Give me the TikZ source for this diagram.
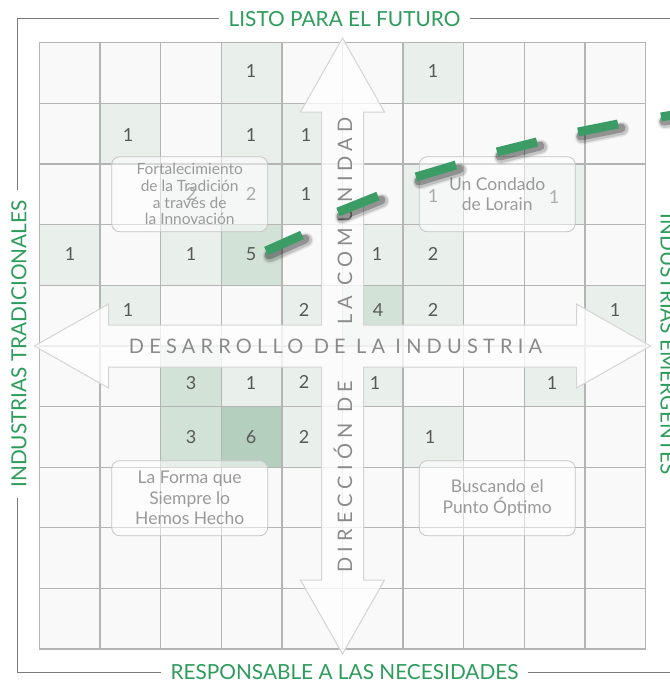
\documentclass[tikz,border=0pt]{standalone}
\usepackage{fontspec}
\setmainfont{Lato}
\definecolor{gridbg}{HTML}{F9F9F9}
\definecolor{gridline}{HTML}{B4B4B4}
\definecolor{shadeA}{HTML}{E9F0EB}
\definecolor{shadeB}{HTML}{D2E2D7}
\definecolor{shadeC}{HTML}{B5CFBE}
\definecolor{numgray}{HTML}{585858}
\definecolor{boxline}{HTML}{C4C4C4}
\definecolor{boxtext}{HTML}{9A9A9A}
\definecolor{axisgray}{HTML}{8A8A8A}
\definecolor{arrowline}{HTML}{D4D4D4}
\definecolor{labelgreen}{HTML}{2E9D5C}
\definecolor{dashgreen}{HTML}{3C9C66}
\definecolor{framegray}{HTML}{7A7A7A}
\begin{document}
\begin{tikzpicture}[x=1pt,y=-1pt,
  num/.style={text=numgray,font=\fontsize{18}{20}\selectfont,inner sep=0pt},
  qbox/.style={draw=boxline,line width=0.8pt,rounded corners=8pt,fill=white,fill opacity=0.5,text opacity=1,
    minimum width=156pt,minimum height=75pt,align=center,text=boxtext,inner sep=0pt},
  axislbl/.style={text=labelgreen,fill=white,font=\fontsize{20.8}{24}\selectfont,inner xsep=10pt,inner ysep=2pt},
  axistxt/.style={text=axisgray,inner sep=0pt,font=\fontsize{20}{24}\selectfont\addfontfeature{LetterSpace=26}},
  crossarrow/.style={draw=arrowline,line width=1pt,fill=white,fill opacity=0.78},
  trend/.style={draw=dashgreen,line width=9pt,line cap=butt},
  trendshadow/.style={draw=black,line cap=round}
]
\useasboundingbox (0,0) rectangle (670,681);
\fill[white] (0,0) rectangle (670,681);
\def\gx{39.3}\def\gy{42.7}\def\cs{60.64}
% grid background
\fill[gridbg] (\gx,\gy) rectangle ({\gx+10*\cs},{\gy+10*\cs});
% shaded cells
\foreach \r/\c/\col in {0/3/shadeA,0/6/shadeA,
  1/1/shadeA,1/3/shadeA,1/4/shadeA,
  2/2/shadeA,2/3/shadeA,2/4/shadeA,2/6/shadeA,2/8/shadeA,
  3/0/shadeA,3/2/shadeA,3/3/shadeB,3/5/shadeA,3/6/shadeA,
  4/1/shadeA,4/4/shadeA,4/5/shadeB,4/6/shadeA,4/9/shadeA,
  5/2/shadeB,5/3/shadeA,5/4/shadeA,5/5/shadeA,5/8/shadeA,
  6/2/shadeB,6/3/shadeC,6/4/shadeA,6/6/shadeA}
  \fill[\col] ({\gx+\c*\cs},{\gy+\r*\cs}) rectangle +(\cs,\cs);
% grid lines
\foreach \i in {0,...,10}{
  \draw[gridline,line width=1.3pt] ({\gx+\i*\cs},\gy) -- ({\gx+\i*\cs},{\gy+10*\cs});
  \draw[gridline,line width=1.3pt] (\gx,{\gy+\i*\cs}) -- ({\gx+10*\cs},{\gy+\i*\cs});
}
% numbers
\foreach \x/\y/\v [count=\k] in {251/71/1,433/71/1,
  128/135/1,251/135/1,306/135/1,
  191/194/2,251/194/2,306/194/1,433/196/1,554/197/1,
  70/254/1,191/254/1,251/254/5,377/254/1,433/254/2,
  128/310/1,304/310/2,378/310/4,433/310/2,615/310/1,
  191/383/3,251/383/1,304/382/2,375/383/1,552/383/1,
  191/437/3,251/437/6,304/437/2,430/437/1}
  \node[num] (n\k) at (\x,\y) {\v};
% four-way arrow
\def\cx{342.5}\def\cy{346}\def\L{308}\def\H{74}\def\hw{42}\def\sw{21}
\filldraw[crossarrow]
  (\cx,{\cy-\L}) -- ({\cx+\hw},{\cy-\L+\H}) -- ({\cx+\sw},{\cy-\L+\H}) -- ({\cx+\sw},{\cy-\sw})
  -- ({\cx+\L-\H},{\cy-\sw}) -- ({\cx+\L-\H},{\cy-\hw}) -- ({\cx+\L},\cy) -- ({\cx+\L-\H},{\cy+\hw})
  -- ({\cx+\L-\H},{\cy+\sw}) -- ({\cx+\sw},{\cy+\sw}) -- ({\cx+\sw},{\cy+\L-\H}) -- ({\cx+\hw},{\cy+\L-\H})
  -- (\cx,{\cy+\L}) -- ({\cx-\hw},{\cy+\L-\H}) -- ({\cx-\sw},{\cy+\L-\H}) -- ({\cx-\sw},{\cy+\sw})
  -- ({\cx-\L+\H},{\cy+\sw}) -- ({\cx-\L+\H},{\cy+\hw}) -- ({\cx-\L},\cy) -- ({\cx-\L+\H},{\cy-\hw})
  -- ({\cx-\L+\H},{\cy-\sw}) -- ({\cx-\sw},{\cy-\sw}) -- ({\cx-\sw},{\cy-\L+\H}) -- ({\cx-\hw},{\cy-\L+\H}) -- cycle;
% axis texts
\node[axistxt,rotate=90] (vtxt) at (343,345) {DIRECCIÓN DE\hspace{56pt}LA COMUNIDAD};
\node[axistxt] (htxt) at (335.5,346.5) {DESARROLLO DE LA INDUSTRIA};
% quadrant boxes
\node[qbox,font=\fontsize{15.5}{16.7}\selectfont] (q1) at (189.7,194.2) {Fortalecimiento\\de la Tradición\\a través de\\la Innovación};
\node[qbox,font=\fontsize{17.5}{20.5}\selectfont] (q2) at (497.2,194.2) {Un Condado\\de Lorain};
\node[qbox,font=\fontsize{17.5}{20.5}\selectfont] (q3) at (189.7,498.2) {La Forma que\\Siempre lo\\Hemos Hecho};
\node[qbox,font=\fontsize{17.5}{20.5}\selectfont] (q4) at (497.2,498.2) {Buscando el\\Punto Óptimo};
% trend dashes
\foreach \ax/\ay/\bx/\by in {266/251/302/235,338/212/378/196,416/177/456/165,497/152/537/142,578/132/618/124,661/117/701/110}{
  \draw[trendshadow,line width=15pt,opacity=0.08] ({\ax+4},{\ay+5}) -- ({\bx+4},{\by+5});
  \draw[trendshadow,line width=12pt,opacity=0.14] ({\ax+4},{\ay+5}) -- ({\bx+4},{\by+5});
  \draw[trendshadow,line width=9pt,opacity=0.25] ({\ax+3},{\ay+4}) -- ({\bx+3},{\by+4});
  \draw[trend] (\ax,\ay) -- (\bx,\by);
}
% frame
\draw[framegray,line width=1pt] (710,18.5) -- (17.5,18.5) -- (17.5,672) -- (710,672);
\node[axislbl] (ltop) at (344.5,18.8) {LISTO PARA EL FUTURO};
\node[axislbl] (lbot) at (344.5,672.3) {RESPONSABLE A LAS NECESIDADES};
\node[axislbl,rotate=90] (lleft) at (19,344) {INDUSTRIAS TRADICIONALES};
\node[axislbl,rotate=-90] (lright) at (668,344) {INDUSTRIAS EMERGENTES};
\end{tikzpicture}
\end{document}
